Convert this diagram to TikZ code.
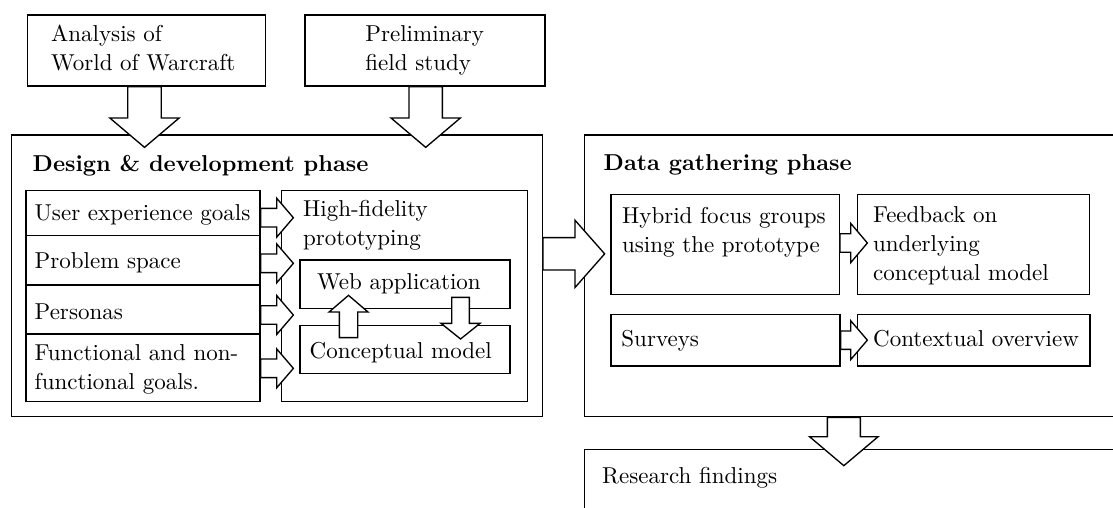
\documentclass[tikz,border=0pt]{standalone}
\usetikzlibrary{fit,calc}
% block arrows: #1 start, #2 length, #3 shaft half width, #4 head half width, #5 head length
\newcommand\rarrowx[5]{\draw[barrow] #1 ++(0,-#3) -- ++({#2-#5},0) -- ++(0,{#3-#4}) -- ++(#5,#4) -- ++(-#5,#4) -- ++(0,{#3-#4}) -- ++({#5-#2},0) -- cycle;}
\newcommand\darrowx[5]{\draw[barrow] #1 ++(-#3,0) -- ++(0,{#2-#5}) -- ++({#3-#4},0) -- ++(#4,#5) -- ++(#4,-#5) -- ++({#3-#4},0) -- ++(0,{#5-#2}) -- cycle;}
\newcommand\uarrowx[5]{\draw[barrow] #1 ++(-#3,0) -- ++(0,{#5-#2}) -- ++({#3-#4},0) -- ++(#4,-#5) -- ++(#4,#5) -- ++({#3-#4},0) -- ++(0,{#2-#5}) -- cycle;}
\begin{document}
\begin{tikzpicture}[x=0.45pt,y=-0.45pt,
  font=\fontsize{10.35}{13.05}\selectfont,
  box/.style={draw, line width=0.6pt, inner sep=0pt},
  txt/.style={inner sep=0pt, anchor=base west, align=left},
  ttl/.style={txt, font=\fontsize{10.35}{13.05}\selectfont\bfseries},
  barrow/.style={draw, fill=white, line width=0.6pt, line join=miter}]
\useasboundingbox (0,0) rectangle (1113,507);
\clip (0,0) rectangle (1113,507);

% top boxes (multi-line texts: base = baseline of last line)
\node[box, fit={(27.3,15) (265.7,86)}] (ana) {};
\node[txt] (tana) at (50.7,70.7) {Analysis of\\World of Warcraft};
\node[box, fit={(305,15) (545,86)}] (prel) {};
\node[txt] (tprel) at (365,70.7) {Preliminary\\field study};

% design phase
\node[box, fit={(11.7,135) (542.3,416.7)}] (des) {};
\node[ttl] (tdes) at (32.3,171) {Design \& development phase};
\node[box, fit={(26,190.7) (260,235.7)}] (ux) {};
\node[txt] (tux) at (34.3,220.7) {User experience goals};
\node[box, fit={(26,235.7) (260,285)}] (ps) {};
\node[txt] (tps) at (34.3,268.3) {Problem space};
\node[box, fit={(26,285) (260,334)}] (pe) {};
\node[txt] (tpe) at (34.3,319.3) {Personas};
\node[box, fit={(26,334) (260,401.7)}] (fn) {};
\node[txt] (tfn) at (34.3,389.5) {Functional and non-\\functional goals.};
\node[box, fit={(281.7,190.7) (527.3,401.7)}] (proto) {};
\node[txt] (tproto) at (302.7,245.5) {High-fidelity\\prototyping};
\node[box, fit={(300,260) (510,308.3)}] (web) {};
\node[txt] (tweb) at (316.7,289.3) {Web application};
\node[box, fit={(300,325.7) (510,373.3)}] (cm) {};
\node[txt] (tcm) at (309.3,358.3) {Conceptual model};

% data gathering phase
\node[box, fit={(584.3,135) (1130,416.7)}] (data) {};
\node[ttl] (tdata) at (603.3,170.5) {Data gathering phase};
\node[box, fit={(611,194.3) (839.3,294.3)}] (hy) {};
\node[txt] (thy) at (621.7,252.5) {Hybrid focus groups\\using the prototype};
\node[box, fit={(857.7,194.3) (1089.3,294.3)}] (fb) {};
\node[txt] (tfb) at (872.7,280.5) {Feedback on\\underlying\\conceptual model};
\node[box, fit={(611,314.3) (840,366)}] (sv) {};
\node[txt] (tsv) at (621,346.7) {Surveys};
\node[box, fit={(857.7,314.3) (1090,366)}] (cx) {};
\node[txt] (tcx) at (872.7,346.7) {Contextual overview};

% research findings
\node[box, fit={(584.3,449.3) (1130,530)}] (res) {};
\node[txt] (tres) at (601.7,483.3) {Research findings};

% block arrows
\darrowx{($(ana.south)+(-2,0)$)}{60.7}{16.7}{34.7}{29.4}
\darrowx{($(prel.south)+(0.7,0)$)}{60.7}{16.7}{34.7}{29.4}
\rarrowx{($(ux.east)+(0,4.5)$)}{32.7}{9.3}{19.5}{16.7}
\rarrowx{($(ps.east)+(0,3)$)}{32.7}{9.3}{19.5}{16.7}
\rarrowx{($(pe.east)+(0,5.5)$)}{32.7}{9.3}{19.5}{16.7}
\rarrowx{($(fn.east)+(0,0.5)$)}{32.7}{9.3}{19.5}{16.7}
\uarrowx{($(cm.north west)+(49.2,12.6)$)}{42.3}{9.2}{19.5}{16.7}
\darrowx{($(web.south west)+(161.2,-11.6)$)}{41.6}{8.8}{19.5}{15.6}
\rarrowx{($(des.east)+(0,-22)$)}{61.7}{16.2}{33.7}{29.7}
\rarrowx{($(hy.east)+(0,-1.3)$)}{27.4}{9.2}{19.7}{16.7}
\rarrowx{(sv.east)}{26.7}{9.2}{19.5}{16.7}
\darrowx{($(data.south west)+(260.2,0)$)}{48.3}{16.5}{34.3}{29}
\end{tikzpicture}
\end{document}
